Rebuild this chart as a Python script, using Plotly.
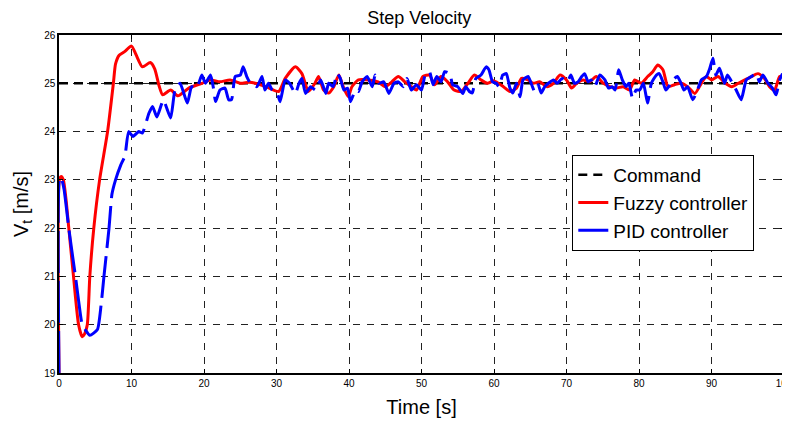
import plotly.graph_objects as go

# ---- data ----
command_t = [0, 100]
command_v = [25, 25]

fuzzy_t = [0, 0.05, 0.3, 0.6, 1.0, 1.35, 2.0, 2.7, 3.2, 3.5, 3.9, 4.25, 4.8, 5.6, 6.7, 7.5, 7.8, 8.3, 9.0, 10.0,
           10.6, 11.5, 12.6, 13.2, 13.8, 14.3, 15.4, 16.4, 17.9, 19.7, 20.9, 22.2, 23.6, 25.0, 26.2, 27.1, 28.7,
           30.3, 31.2, 32.6, 33.5, 34.4, 35.3, 35.8, 36.5, 37.2, 37.9, 38.6, 39.2, 39.9, 40.4, 41.3, 42.7, 44.0,
           45.0, 45.9, 46.8, 47.7, 48.6, 49.3, 50.2, 51.1, 51.8, 52.7, 53.6, 54.5, 55.5, 56.4, 57.3, 58.2, 59.1,
           60.0, 61.3, 62.2, 63.1, 63.8, 64.7, 65.4, 66.3, 67.3, 68.2, 69.1, 70.0, 70.7, 71.4, 72.3, 73.2, 74.1,
           75.1, 76.0, 76.9, 77.8, 78.7, 79.4, 80.3, 81.2, 81.9, 82.6, 83.3, 84.0, 84.9, 85.8, 86.7, 87.7, 88.6,
           89.3, 90.0, 90.9, 91.9, 92.8, 93.7, 94.6, 95.5, 96.4, 97.3, 98.0, 98.7, 99.4, 100.0]
fuzzy_v = [19.0, 23.0, 23.07, 23.0, 22.55, 22.0, 21.0, 20.0, 19.75, 19.8, 20.0, 21.0, 22.0, 23.0, 24.0, 25.0, 25.4,
           25.58, 25.65, 25.77, 25.6, 25.34, 25.43, 25.3, 24.95, 24.76, 24.86, 24.74, 24.9, 25.0, 25.07, 25.03,
           25.07, 25.0, 25.02, 25.0, 24.92, 24.83, 25.1, 25.34, 25.2, 24.83, 25.0, 25.14, 24.86, 24.8, 24.93,
           25.17, 24.93, 24.72, 24.93, 25.07, 25.07, 25.03, 24.93, 25.03, 25.14, 25.03, 24.93, 24.86, 25.14,
           25.17, 24.97, 25.14, 25.03, 24.86, 24.83, 25.0, 25.17, 25.07, 25.0, 25.05, 24.93, 24.83, 24.9, 25.1,
           25.07, 25.0, 25.03, 24.93, 25.0, 25.17, 25.07, 24.9, 25.0, 25.07, 25.03, 25.14, 25.0, 24.93, 24.9,
           24.93, 24.86, 25.07, 25.0, 25.14, 25.24, 25.38, 25.28, 24.93, 24.97, 25.0, 24.93, 24.79, 25.0, 25.14,
           25.07, 25.14, 25.0, 24.93, 25.0, 25.07, 25.14, 25.2, 25.1, 24.93, 24.86, 25.14, 25.14]

pid_t = [0, 0.05, 0.3, 0.7, 1.35, 1.8, 2.27, 2.7, 3.2, 3.7, 4.25, 5.3, 5.8, 6.2, 6.9, 7.3, 7.8, 8.5, 9.1, 9.6,
         10.2, 11.0, 11.5, 12.4, 12.9, 13.5, 14.4, 15.4, 16.0, 16.7, 17.7, 18.3, 19.0, 19.7, 20.2, 20.9, 21.3,
         21.6, 22.2, 22.9, 23.4, 23.8, 24.3, 25.0, 25.4, 25.9, 26.4, 27.3, 28.0, 28.4, 28.9, 29.4, 30.1, 30.5,
         31.2, 31.8, 32.6, 33.1, 33.5, 34.0, 34.7, 35.4, 36.1, 36.8, 37.2, 37.8, 38.4, 38.8, 39.3, 39.8, 40.2,
         40.9, 41.3, 41.8, 42.5, 43.2, 43.6, 44.1, 44.8, 45.5, 46.2, 46.8, 47.5, 48.0, 48.6, 49.3, 50.0, 50.5,
         51.1, 51.6, 52.1, 52.7, 53.2, 53.9, 54.3, 55.0, 55.7, 56.1, 56.6, 57.0, 57.5, 58.2, 58.9, 59.3, 59.8,
         60.3, 60.7, 61.2, 61.7, 62.2, 62.6, 63.1, 63.6, 64.0, 64.7, 65.2, 65.6, 66.1, 66.5, 67.0, 67.5, 68.2,
         68.7, 69.4, 70.1, 70.6, 71.1, 71.6, 72.1, 72.5, 73.0, 73.4, 73.9, 74.6, 75.3, 75.8, 76.3, 76.7, 77.2,
         77.7, 78.2, 78.6, 79.1, 79.6, 80.1, 80.6, 81.0, 81.2, 81.7, 82.4, 82.8, 83.3, 83.7, 84.4, 84.9, 85.3,
         85.8, 86.2, 86.7, 87.4, 87.9, 88.6, 89.3, 89.7, 90.2, 90.6, 91.1, 91.8, 92.2, 92.9, 93.4, 94.1, 94.8,
         95.5, 96.2, 96.6, 97.1, 97.8, 98.4, 98.9, 99.4, 99.8]
pid_v = [19.0, 23.0, 23.05, 22.8, 22.0, 21.5, 21.0, 20.5, 20.0, 19.88, 19.78, 19.9, 20.4, 21.0, 22.0, 22.7, 23.0,
         23.3, 23.5, 24.0, 23.9, 24.0, 23.97, 24.38, 24.52, 24.3, 24.65, 24.28, 24.86, 25.0, 24.59, 24.93, 24.9,
         25.17, 25.0, 25.17, 24.9, 24.62, 24.86, 24.9, 24.66, 24.66, 25.14, 25.17, 25.34, 25.14, 25.0, 24.93,
         25.14, 24.86, 25.0, 24.86, 24.79, 24.62, 25.07, 25.0, 24.79, 25.0, 25.1, 24.79, 24.93, 24.86, 25.07,
         24.79, 25.0, 24.93, 25.2, 25.1, 24.86, 24.9, 24.62, 24.86, 24.83, 25.03, 25.14, 24.93, 25.17, 25.0,
         25.03, 24.79, 25.0, 25.03, 24.93, 25.1, 24.86, 24.97, 24.86, 25.17, 25.24, 24.97, 25.14, 25.03, 25.24,
         25.2, 24.97, 24.93, 24.79, 24.93, 24.83, 24.8, 25.1, 25.17, 25.34, 25.28, 25.03, 25.0, 24.93, 25.17,
         25.2, 24.9, 24.8, 25.0, 24.72, 25.07, 25.14, 24.97, 24.83, 24.97, 24.8, 24.93, 25.0, 25.07, 25.0, 25.1,
         25.03, 25.17, 25.0, 25.03, 25.14, 25.2, 25.03, 25.07, 24.93, 25.17, 25.07, 24.9, 24.93, 24.86, 25.28,
         25.07, 24.93, 25.0, 24.69, 24.86, 24.86, 25.0, 24.72, 24.59, 25.0, 25.17, 25.2, 25.03, 24.86, 25.0,
         25.1, 25.14, 25.0, 24.86, 24.93, 24.66, 24.79, 25.07, 25.14, 25.28, 25.52, 25.17, 25.31, 25.0, 25.17,
         25.0, 24.86, 24.66, 25.07, 25.14, 25.2, 25.03, 25.17, 25.0, 24.9, 24.76, 25.07, 25.2]

x_ticks = [0, 10, 20, 30, 40, 50, 60, 70, 80, 90, 100]
y_ticks = [19, 20, 21, 22, 23, 24, 25, 26]

FONT = "Liberation Sans Narrow, Liberation Sans, Arial, sans-serif"
FONT2 = "Liberation Sans, Arial, sans-serif"

fig = go.Figure()
fig.add_trace(go.Scatter(x=command_t, y=command_v, mode="lines", name="Command",
                         line=dict(color="black", width=2.5, dash="9px,6px")))
fig.add_trace(go.Scatter(x=fuzzy_t, y=fuzzy_v, mode="lines", name="Fuzzy controller",
                         line=dict(color="#ff0000", width=3, shape="spline", smoothing=0.6)))
fig.add_trace(go.Scatter(x=pid_t, y=pid_v, mode="lines", name="PID controller",
                         line=dict(color="#0000ff", width=3, dash="42px,8px", shape="spline", smoothing=0.5)))

axis_common = dict(showline=True, linecolor="black", linewidth=1.5, mirror="ticks",
                   ticks="inside", ticklen=4, tickcolor="black", showgrid=True,
                   gridcolor="#222222", gridwidth=1, griddash="7px,7px", zeroline=False,
                   ticklabeloverflow="allow", automargin=False,
                   tickfont=dict(family=FONT, size=10, color="black"))

# the page body has an 8px default margin, so the figure is sized to fit the window
fig.update_layout(
    width=782, height=413,
    margin=dict(l=51, r=6, t=27, b=48),
    paper_bgcolor="white", plot_bgcolor="white",
    title=dict(text="Step Velocity", x=0.526, xanchor="center", y=0.976, yanchor="middle",
               font=dict(family=FONT, size=18, color="black")),
    xaxis=dict(range=[0, 100], tickvals=x_ticks,
               title=dict(text="Time [s]", font=dict(family=FONT, size=20, color="black"), standoff=12),
               **axis_common),
    yaxis=dict(range=[19, 26], tickvals=y_ticks,
               title=dict(text="V<sub>t</sub> [m/s]", font=dict(family=FONT2, size=20, color="black"), standoff=10),
               **axis_common),
    legend=dict(x=0.708, y=0.645, xanchor="left", yanchor="top",
                bgcolor="white", bordercolor="black", borderwidth=1,
                font=dict(family=FONT2, size=19, color="black"),
                tracegroupgap=0, itemwidth=30),
    showlegend=True,
)

fig.write_html("out.html")
